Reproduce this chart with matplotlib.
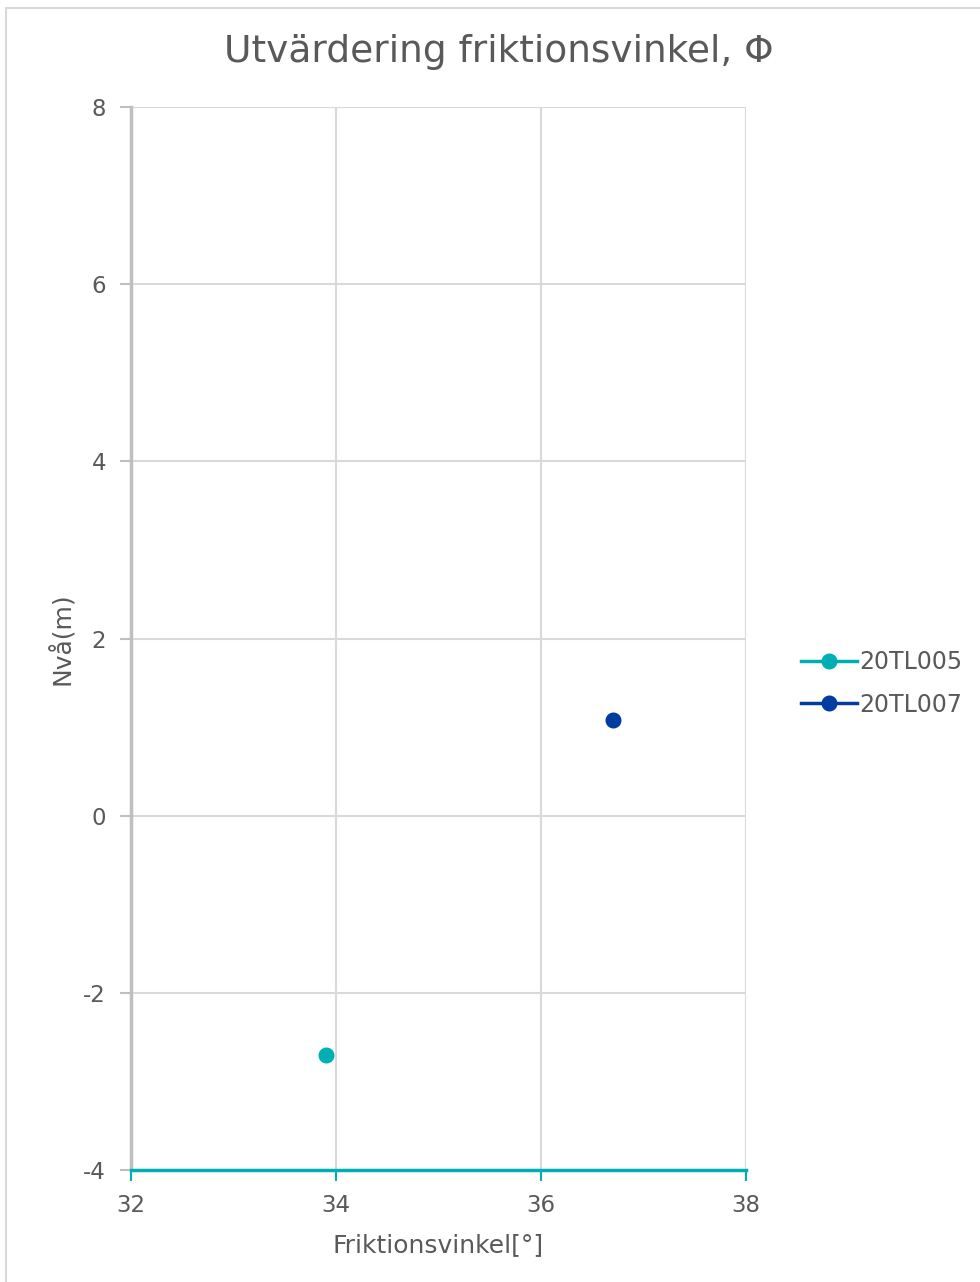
import matplotlib.pyplot as plt
from matplotlib.patches import Rectangle

# data
serier = ["20TL005", "20TL007"]
friktionsvinkel = [33.9, 36.7]
niva = [-2.7, 1.08]
farger = ["#00AFB3", "#003DA0"]

xticks = [32, 34, 36, 38]
yticks = [-4, -2, 0, 2, 4, 6, 8]

textfarg = "#595959"
gridfarg = "#D9D9D9"

plt.rcParams['font.family'] = ['DejaVu Sans']
plt.rcParams['axes.unicode_minus'] = False

fig = plt.figure(figsize=(9.8, 12.82), dpi=100)
ax = fig.add_axes([131/980, 1 - 1170/1282, 615/980, 1063/1282])

for namn, x, y, f in zip(serier, friktionsvinkel, niva, farger):
    ax.plot([x], [y], marker="o", markersize=10.5, color=f, linewidth=2.5, label=namn,
            zorder=3)

ax.set_xlim(32, 38)
ax.set_ylim(-4, 8)
ax.set_xticks(xticks)
ax.set_yticks(yticks)
ax.grid(True, color=gridfarg, linewidth=1.5)
ax.set_axisbelow(True)

for s in ["top", "right"]:
    ax.spines[s].set_visible(False)
ax.spines["left"].set_color("#BFBFBF")
ax.spines["left"].set_linewidth(2.5)
ax.spines["bottom"].set_color(farger[0])
ax.spines["bottom"].set_linewidth(2.5)

ax.tick_params(axis="y", colors="#BFBFBF", labelcolor=textfarg, labelsize=16.5,
               length=8, width=1.5, pad=10)
ax.tick_params(axis="x", colors=farger[0], labelcolor=textfarg, labelsize=16.5,
               length=8, width=1.5, pad=9)

ax.set_xlabel("Friktionsvinkel[°]", color=textfarg, fontsize=18, labelpad=12)
ax.set_ylabel("Nvå(m)", color=textfarg, fontsize=18, labelpad=6)
fig.text(499/980, 1 - 52/1282, "Utvärdering friktionsvinkel, Φ", color=textfarg,
         fontsize=27, ha="center", va="center")

leg = ax.legend(loc="center left", bbox_to_anchor=(0.8, 0.417, 0.2, 0.1),
                bbox_transform=fig.transFigure, frameon=False, fontsize=17,
                handlelength=2.4, handletextpad=0.1, labelspacing=0.8,
                borderpad=0.2, labelcolor=textfarg)

# chart border
fig.patches.append(Rectangle((6/980, -0.01), 1.0, 1 - 8/1282 + 0.01,
                             transform=fig.transFigure, fill=False,
                             edgecolor="#D9D9D9", linewidth=1.5))

fig.savefig("out.png", dpi=100)
